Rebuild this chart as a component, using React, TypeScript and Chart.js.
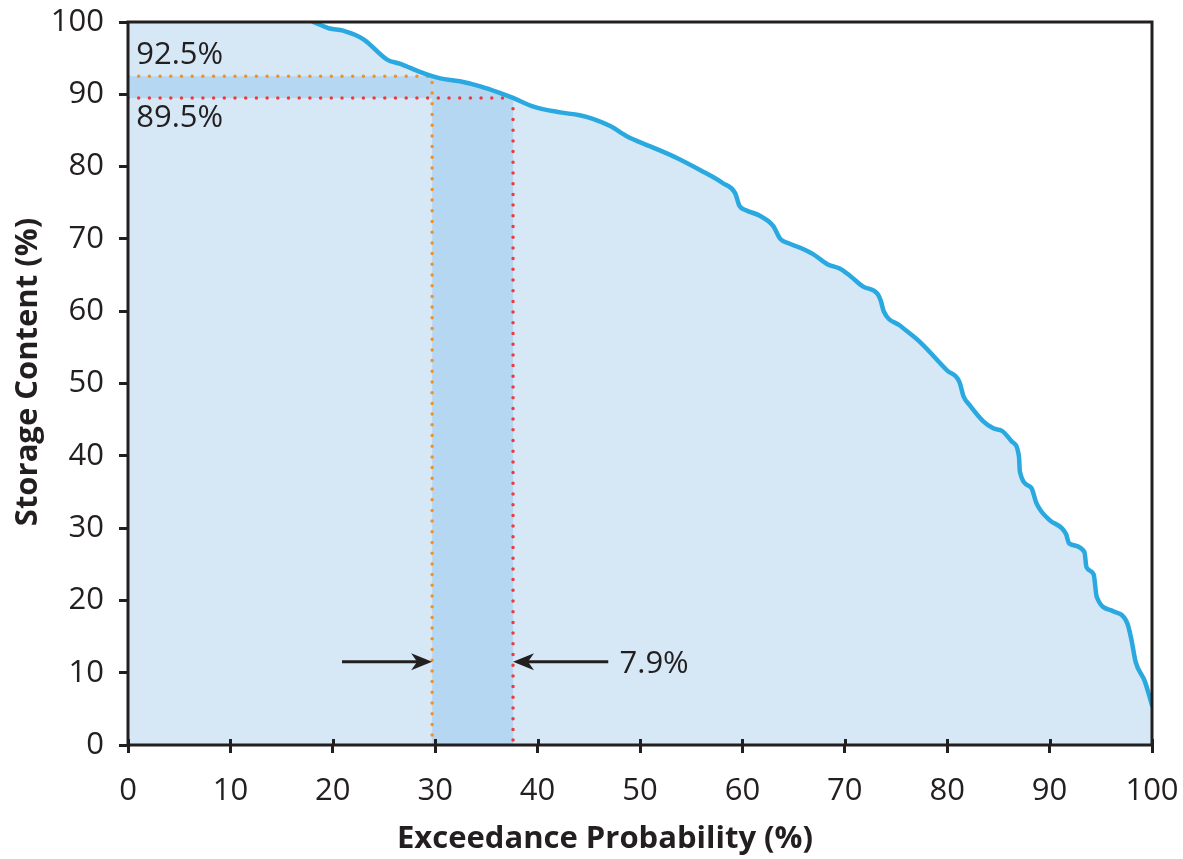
import React, { useEffect, useRef } from "react";
import { Chart, registerables } from "chart.js";

Chart.register(...registerables);

// ---- data ----
const exceedance = [
  18.1, 19.7, 21.0, 23.0, 25.3, 26.6, 28.5, 29.7, 30.5, 32.4, 34.4, 36.3, 37.6,
  39.6, 42.2, 44.1, 45.4, 47.1, 48.7, 51.0, 53.6, 55.9, 58.1, 59.3, 59.7, 60.3,
  61.7, 63.0, 63.7, 64.5, 65.6, 66.9, 68.3, 69.5, 70.5, 71.8, 73.2, 73.5, 73.8,
  75.4, 77.3, 80.0, 81.2, 81.6, 82.2, 83.5, 84.5, 85.4, 86.3, 87.0, 87.1, 88.2,
  88.7, 89.2, 90.0, 91.6, 91.9, 93.4, 93.6, 94.3, 94.6, 96.2, 97.6, 98.0, 98.4,
  99.3, 100.0,
];
const storage = [
  100.0, 99.1, 98.8, 97.6, 94.8, 94.2, 93.1, 92.5, 92.2, 91.8, 91.1, 90.2, 89.5,
  88.3, 87.5, 87.1, 86.6, 85.6, 84.2, 82.8, 81.2, 79.5, 77.7, 76.3, 74.6, 74.0,
  73.2, 71.8, 70.0, 69.4, 68.8, 67.9, 66.5, 65.9, 64.9, 63.4, 62.4, 61.5, 60.0,
  58.0, 55.8, 51.8, 50.2, 48.2, 47.0, 44.8, 43.8, 43.4, 42.0, 40.0, 37.8, 35.6,
  33.5, 32.3, 31.1, 29.2, 27.9, 26.7, 24.6, 23.6, 20.5, 18.5, 16.8, 14.5, 11.5,
  8.8, 5.5,
];

const upperLevel = 92.5; // %
const lowerLevel = 89.5; // %
const upperExceed = 29.7; // %
const lowerExceed = 37.6; // %
const diffLabel = "7.9%";
const upperLabel = "92.5%";
const lowerLabel = "89.5%";
const arrowY = 11.5;
const arrowLeftFrom = 20.9;
const arrowRightFrom = 46.9;
const diffLabelX = 48.0;
const levelLabelX = 0.8;

const xTickValues = [0, 10, 20, 30, 40, 50, 60, 70, 80, 90, 100];
const yTickValues = [0, 10, 20, 30, 40, 50, 60, 70, 80, 90, 100];

const xTitle = "Exceedance Probability (%)";
const yTitle = "Storage Content (%)";

// ---- styles ----
const INK = "#231f20";
const LINE_BLUE = "#29a9e0";
const FILL_BLUE = "#d6e7f6";
const BAND_BLUE = "#b5d7f1";
const ORANGE = "#f7901e";
const RED = "#ee3a3a";
const FONT = "'Open Sans', 'DejaVu Sans', sans-serif";
const FONT_SIZE = 31;

const curvePts = exceedance.map((x, i) => ({ x, y: storage[i] }));

export default function App() {
  const ref = useRef<HTMLCanvasElement | null>(null);

  useEffect(() => {
    document.body.style.margin = "0";
    const canvas = ref.current;
    if (!canvas) return;

    const bandPts = [
      { x: upperExceed, y: upperLevel },
      ...curvePts.filter((p) => p.x > upperExceed && p.x < lowerExceed),
      { x: lowerExceed, y: lowerLevel },
    ];

    const overlay = {
      id: "overlay",
      afterDatasetsDraw(chart: any) {
        const { ctx, chartArea: a, scales } = chart;
        const xs = scales.x;
        const ys = scales.y;
        ctx.save();
        ctx.strokeStyle = INK;
        ctx.lineWidth = 3;
        ctx.strokeRect(a.left, a.top, a.right - a.left, a.bottom - a.top);
        // inward stubs of the x ticks
        for (const v of xTickValues) {
          const px = Math.round(xs.getPixelForValue(v)) + 0.5;
          ctx.beginPath();
          ctx.moveTo(px, a.bottom);
          ctx.lineTo(px, a.bottom - 6);
          ctx.stroke();
        }
        // arrows
        const ay = ys.getPixelForValue(arrowY);
        const drawArrow = (fromV: number, toV: number) => {
          const x0 = xs.getPixelForValue(fromV);
          const x1 = xs.getPixelForValue(toV);
          const dir = Math.sign(x1 - x0);
          ctx.strokeStyle = INK;
          ctx.fillStyle = INK;
          ctx.lineWidth = 3;
          ctx.beginPath();
          ctx.moveTo(x0, ay);
          ctx.lineTo(x1 - dir * 10, ay);
          ctx.stroke();
          ctx.beginPath();
          ctx.moveTo(x1, ay);
          ctx.lineTo(x1 - dir * 21, ay - 8.5);
          ctx.lineTo(x1 - dir * 15, ay);
          ctx.lineTo(x1 - dir * 21, ay + 8.5);
          ctx.closePath();
          ctx.fill();
        };
        drawArrow(arrowLeftFrom, upperExceed);
        drawArrow(arrowRightFrom, lowerExceed);
        // labels
        ctx.fillStyle = INK;
        ctx.font = `${FONT_SIZE}px ${FONT}`;
        ctx.textAlign = "left";
        ctx.textBaseline = "alphabetic";
        ctx.fillText(diffLabel, xs.getPixelForValue(diffLabelX), ay + 11);
        ctx.fillText(upperLabel, xs.getPixelForValue(levelLabelX), ys.getPixelForValue(upperLevel) - 12);
        ctx.fillText(lowerLabel, xs.getPixelForValue(levelLabelX), ys.getPixelForValue(lowerLevel) + 29);
        ctx.restore();
      },
      afterDraw(chart: any) {
        const { ctx } = chart;
        ctx.save();
        ctx.fillStyle = INK;
        ctx.font = `bold ${FONT_SIZE}px ${FONT}`;
        ctx.textAlign = "center";
        ctx.textBaseline = "middle";
        ctx.fillText(xTitle, 605, 839);
        ctx.translate(28, 372);
        ctx.rotate(-Math.PI / 2);
        ctx.fillText(yTitle, 0, 0);
        ctx.restore();
      },
    };

    const chart = new Chart(canvas, {
      type: "line",
      data: {
        datasets: [
          {
            // curve line
            data: curvePts,
            borderColor: LINE_BLUE,
            borderWidth: 4.5,
            pointRadius: 0,
            fill: false,
            cubicInterpolationMode: "monotone",
            borderCapStyle: "round",
            order: 1,
          },
          {
            data: [
              { x: 0, y: upperLevel },
              { x: upperExceed, y: upperLevel },
              { x: upperExceed, y: 0 },
            ],
            borderColor: ORANGE,
            borderWidth: 3.5,
            borderDash: [0, 10.7],
            borderCapStyle: "round",
            pointRadius: 0,
            fill: false,
            tension: 0,
            order: 2,
          },
          {
            data: [
              { x: 0, y: lowerLevel },
              { x: lowerExceed, y: lowerLevel },
              { x: lowerExceed, y: 0 },
            ],
            borderColor: RED,
            borderWidth: 3.5,
            borderDash: [0, 10.7],
            borderCapStyle: "round",
            pointRadius: 0,
            fill: false,
            tension: 0,
            order: 2,
          },
          {
            // horizontal band
            data: [
              { x: 0, y: upperLevel },
              { x: upperExceed, y: upperLevel },
            ],
            borderWidth: 0,
            borderColor: "rgba(0,0,0,0)",
            backgroundColor: BAND_BLUE,
            pointRadius: 0,
            fill: { value: lowerLevel },
            tension: 0,
            order: 3,
          },
          {
            // vertical band
            data: bandPts,
            borderWidth: 0,
            borderColor: "rgba(0,0,0,0)",
            backgroundColor: BAND_BLUE,
            pointRadius: 0,
            fill: "origin",
            cubicInterpolationMode: "monotone",
            order: 3,
          },
          {
            // area under curve
            data: curvePts,
            borderWidth: 0,
            borderColor: "rgba(0,0,0,0)",
            backgroundColor: FILL_BLUE,
            pointRadius: 0,
            fill: "origin",
            cubicInterpolationMode: "monotone",
            order: 4,
          },
          {
            data: [
              { x: 0, y: 100 },
              { x: exceedance[0] + 0.5, y: 100 },
            ],
            borderWidth: 0,
            borderColor: "rgba(0,0,0,0)",
            backgroundColor: FILL_BLUE,
            pointRadius: 0,
            fill: "origin",
            tension: 0,
            order: 4,
          },
        ] as any,
      },
      options: {
        responsive: false,
        animation: false,
        devicePixelRatio: 1,
        layout: { padding: { left: 0, top: 22, right: 31, bottom: 0 } },
        plugins: {
          legend: { display: false },
          tooltip: { enabled: false },
        },
        scales: {
          x: {
            type: "linear",
            min: 0,
            max: 100,
            afterFit: (s: any) => {
              s.height = 114;
              s.paddingLeft = 0;
              s.paddingRight = 0;
            },
            afterBuildTicks: (s: any) => {
              s.ticks = xTickValues.map((v) => ({ value: v }));
            },
            border: { display: false },
            grid: {
              drawOnChartArea: false,
              drawTicks: true,
              tickLength: 8,
              lineWidth: 3,
              color: INK,
            },
            ticks: {
              color: INK,
              font: { family: FONT, size: FONT_SIZE },
              padding: 20,
              maxRotation: 0,
            },
          },
          y: {
            type: "linear",
            min: 0,
            max: 100,
            afterFit: (s: any) => {
              s.width = 128;
              s.paddingTop = 0;
              s.paddingBottom = 0;
            },
            afterBuildTicks: (s: any) => {
              s.ticks = yTickValues.map((v) => ({ value: v }));
            },
            border: { display: false },
            grid: {
              drawOnChartArea: false,
              drawTicks: true,
              tickLength: 9,
              lineWidth: 3,
              color: INK,
            },
            ticks: {
              color: INK,
              font: { family: FONT, size: FONT_SIZE },
              padding: 15,
            },
          },
        },
      } as any,
      plugins: [overlay],
    });

    return () => chart.destroy();
  }, []);

  return (
    <div style={{ width: 1183, height: 859 }}>
      <canvas ref={ref} width={1183} height={859} />
    </div>
  );
}
